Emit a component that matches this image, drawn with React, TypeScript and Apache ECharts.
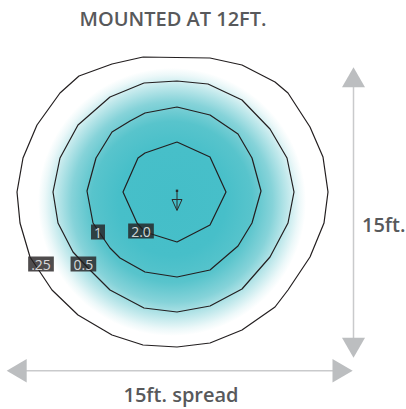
import React, { useEffect, useRef } from "react";
import * as echarts from "echarts";

// Contour lines (feet, relative to the fixture at 0,0)
const contour025 = [
  [-1.7, 7.0], [1.65, 6.95], [3.25, 6.6], [4.9, 5.75], [5.55, 5.2], [6.65, 3.5], [7.3, 2.0], [7.55, 0.25],
  [7.35, -1.3], [6.65, -3.0], [5.55, -4.65], [4.9, -5.5], [3.25, -6.65], [1.65, -7.3], [0.0, -7.5],
  [-1.7, -7.4], [-3.25, -6.9], [-4.95, -5.9], [-6.25, -4.65], [-7.35, -3.0], [-7.85, -1.3], [-8.0, 0.25],
  [-7.7, 1.95], [-7.0, 3.6], [-5.85, 5.2], [-4.9, 6.05], [-3.25, 6.65], [-1.7, 7.0],
];
const contour05 = [
  [-1.65, 5.7], [0.0, 5.8], [1.55, 5.65], [3.25, 4.85], [4.65, 3.4], [5.5, 1.95], [5.85, 0.25], [5.55, -1.3],
  [4.65, -3.0], [3.25, -4.6], [1.65, -5.45], [0.0, -5.75], [-1.65, -5.55], [-3.35, -4.65], [-4.45, -3.55],
  [-5.2, -2.75], [-5.95, -1.3], [-6.2, 0.25], [-5.85, 1.95], [-4.95, 3.6], [-3.35, 5.0], [-1.65, 5.7],
];
const contour1 = [
  [0.0, 4.5], [1.65, 4.1], [3.05, 3.15], [3.75, 1.95], [4.2, 0.3], [3.75, -1.3], [3.05, -2.45], [1.65, -3.65],
  [0.0, -4.0], [-1.6, -3.75], [-2.85, -3.05], [-3.35, -2.55], [-4.2, -1.3], [-4.5, 0.3], [-4.05, 1.95],
  [-3.25, 3.25], [-2.35, 3.8], [-1.6, 4.2], [0.0, 4.5],
];
const contour2 = [
  [0.0, 2.75], [1.65, 2.0], [2.45, 0.25], [1.65, -1.4], [0.0, -2.25], [-1.6, -1.75], [-2.0, -1.3],
  [-2.7, 0.25], [-1.95, 1.95], [-1.6, 2.2], [0.0, 2.75],
];

// Contour labels
const levelNames = [".25", "0.5", "1", "2.0"];
const labelX = [-6.8, -4.68, -3.95, -1.8];
const labelY = [-3.35, -3.35, -1.75, -1.7];

// Light glow: centre x, centre y, radius (ft)
const glow = [[-0.25, -0.25, 6.7]];

const titleText = "MOUNTED AT 12FT.";
const spreadText = "15ft. spread";
const heightText = "15ft.";

export default function App() {
  const ref = useRef<HTMLDivElement>(null);

  useEffect(() => {
    const chart = echarts.init(ref.current as HTMLDivElement, null, { renderer: "svg" });
    const lineColor = "#231f20";
    const textColor = "#58595b";
    const arrowLine = "#c9cacc";
    const arrowHead = "#bcbec0";

    const contours = [contour025, contour05, contour1, contour2];

    const option: any = {
      animation: false,
      backgroundColor: "#ffffff",
      grid: { left: 7, right: 59, top: 27, bottom: 42 },
      xAxis: { type: "value", min: -8.5, max: 8.5, show: false },
      yAxis: { type: "value", min: -8.5, max: 8.5, show: false },
      series: [
        {
          type: "custom",
          data: glow,
          silent: true,
          z: 1,
          renderItem: (params: any, api: any) => {
            const c = api.coord([api.value(0), api.value(1)]);
            const r = api.size([api.value(2), 0])[0];
            return {
              type: "circle",
              shape: { cx: c[0], cy: c[1], r },
              style: {
                fill: new echarts.graphic.RadialGradient(0.5, 0.5, 0.5, [
                  { offset: 0, color: "#44bec8" },
                  { offset: 0.4, color: "#47bfc9" },
                  { offset: 0.6, color: "#58c4cc" },
                  { offset: 0.75, color: "#86d3d9" },
                  { offset: 0.87, color: "#c2e9ec" },
                  { offset: 0.95, color: "#ecf8f9" },
                  { offset: 1, color: "#ffffff" },
                ]),
              },
            };
          },
        },
        ...contours.map((c) => ({
          type: "line",
          data: c,
          symbol: "none",
          clip: false,
          silent: true,
          z: 2,
          lineStyle: { color: lineColor, width: 1.2 },
        })),
        {
          type: "scatter",
          z: 5,
          symbolSize: 1,
          itemStyle: { color: "rgba(0,0,0,0)" },
          data: levelNames.map((n, i) => ({ name: n, value: [labelX[i], labelY[i]] })),
          label: {
            show: true,
            position: "inside",
            formatter: (p: any) => p.name,
            color: "#ffffff",
            backgroundColor: lineColor,
            padding: [1, 3, 0, 3],
            lineHeight: 14,
            fontSize: 14,
            fontFamily: "Open Sans",
          },
        },
      ],
      graphic: [
        {
          type: "text",
          x: 173,
          y: 18,
          style: {
            text: titleText,
            fill: textColor,
            fontSize: 20,
            fontWeight: 600,
            fontFamily: "Open Sans",
            align: "center",
            verticalAlign: "middle",
          },
        },
        {
          type: "text",
          x: 181,
          y: 394,
          style: {
            text: spreadText,
            fill: textColor,
            fontSize: 20,
            fontWeight: 600,
            fontFamily: "Open Sans",
            align: "center",
            verticalAlign: "middle",
          },
        },
        {
          type: "text",
          x: 362,
          y: 224,
          style: {
            text: heightText,
            fill: textColor,
            fontSize: 20,
            fontWeight: 600,
            fontFamily: "Open Sans",
            align: "left",
            verticalAlign: "middle",
          },
        },
        // horizontal arrow
        { type: "line", shape: { x1: 20, y1: 370.7, x2: 340, y2: 370.7 }, style: { stroke: arrowLine, lineWidth: 1.5 } },
        { type: "polygon", shape: { points: [[6.7, 370.7], [26.7, 359], [26.7, 382.4]] }, style: { fill: arrowHead } },
        { type: "polygon", shape: { points: [[352.7, 370.7], [332.5, 359], [332.5, 382.4]] }, style: { fill: arrowHead } },
        // vertical arrow
        { type: "line", shape: { x1: 353.5, y1: 80, x2: 353.5, y2: 345 }, style: { stroke: arrowLine, lineWidth: 1.5 } },
        { type: "polygon", shape: { points: [[353.5, 67.3], [342, 87.3], [365, 87.3]] }, style: { fill: arrowHead } },
        { type: "polygon", shape: { points: [[353.5, 357.7], [342, 337.7], [365, 337.7]] }, style: { fill: arrowHead } },
        // fixture icon
        { type: "line", z: 10, shape: { x1: 177, y1: 191, x2: 177, y2: 210 }, style: { stroke: "#2b2b2b", lineWidth: 1 } },
        { type: "polygon", z: 10, shape: { points: [[172, 199.5], [182, 199.5], [177, 210.5]] }, style: { fill: "none", stroke: "#2b2b2b", lineWidth: 1 } },
        { type: "rect", z: 10, shape: { x: 175.8, y: 189.6, width: 2.4, height: 2.4 }, style: { fill: "#2b2b2b" } },
      ],
    };

    chart.setOption(option);
    return () => chart.dispose();
  }, []);

  return (
    <div
      ref={ref}
      style={{ position: "fixed", left: 0, top: 0, width: 406, height: 409 }}
    />
  );
}
